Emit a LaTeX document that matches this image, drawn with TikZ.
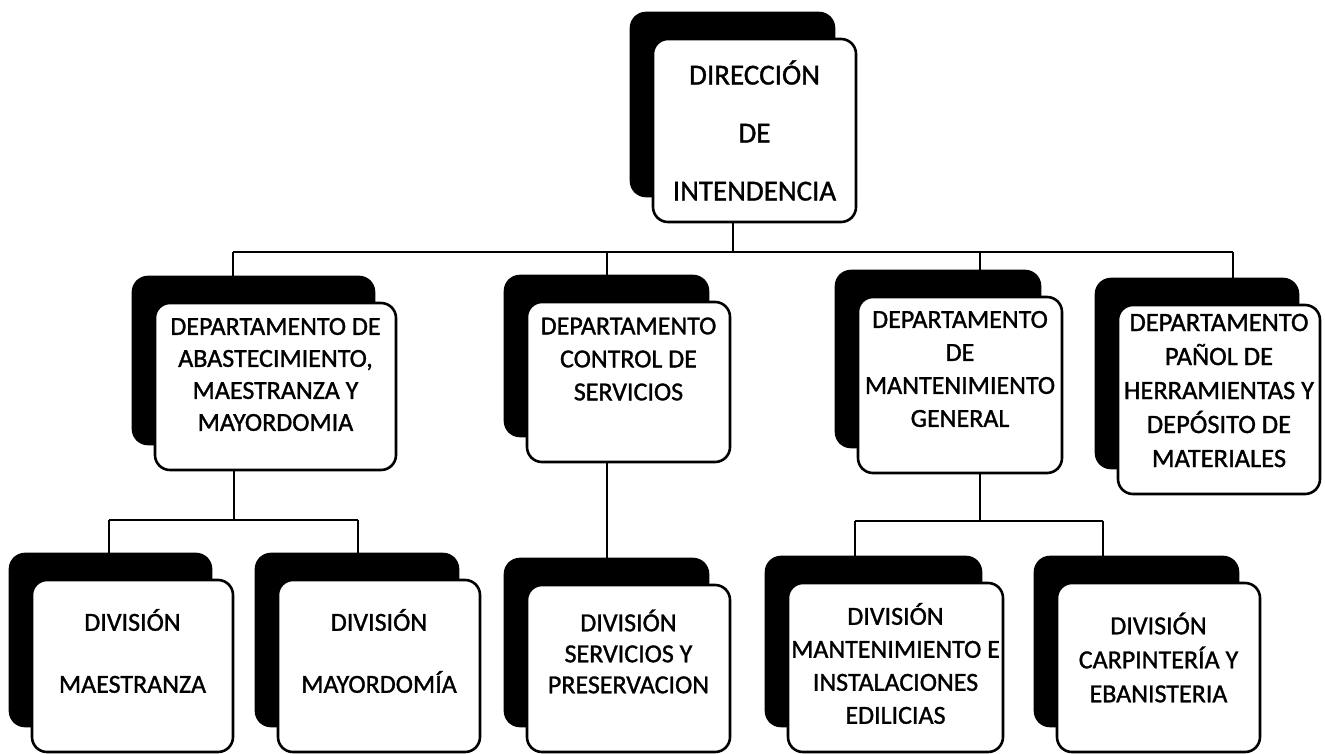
\documentclass[tikz,border=0pt]{standalone}
\usepackage{fontspec}
\setmainfont{Carlito}[BoldFont=Carlito,BoldFeatures={FakeBold=1.2}]
\usetikzlibrary{shadows}
\begin{document}
\begin{tikzpicture}[x=1pt,y=-1pt,
  unit/.style={draw,line width=2.6pt,rounded corners=15pt,fill=white,inner sep=0pt,
    copy shadow={shadow xshift=-22pt,shadow yshift=26pt,fill=black,draw=black}},
  lbl/.style={align=center,inner sep=0pt,font=\fontsize{26}{33}\selectfont\bfseries},
  link/.style={line width=2.2pt}]
\useasboundingbox (0,0) rectangle (1325,754);

%Top box
\node[unit,minimum width=203pt,minimum height=183pt] (dir) at (754.5,130.5) {};
\node[lbl,font=\fontsize{29}{58}\selectfont\bfseries] (dirt) at (dir.center) {DIRECCIÓN\\DE\\INTENDENCIA};

%Departments
\node[unit,minimum width=241pt,minimum height=167pt] (dep1) at (275.5,386.5) {};
\node[lbl,font=\fontsize{26}{32}\selectfont\bfseries] (dep1t) at ([yshift=12pt]dep1.center) {DEPARTAMENTO DE\\ABASTECIMIENTO,\\MAESTRANZA Y\\MAYORDOMIA};
\node[unit,minimum width=203pt,minimum height=160pt] (dep2) at (628.5,382) {};
\node[lbl] (dep2t) at ([yshift=23pt]dep2.center) {DEPARTAMENTO\\CONTROL DE\\SERVICIOS};
\node[unit,minimum width=204pt,minimum height=176pt] (dep3) at (960,385) {};
\node[lbl] (dep3t) at ([yshift=16pt]dep3.center) {DEPARTAMENTO\\DE\\MANTENIMIENTO\\GENERAL};
\node[unit,minimum width=202pt,minimum height=189pt] (dep4) at (1219,399.5) {};
\node[lbl,font=\fontsize{26.5}{34}\selectfont\bfseries] (dep4t) at ([yshift=9pt]dep4.center) {DEPARTAMENTO\\PAÑOL DE\\HERRAMIENTAS Y\\DEPÓSITO DE\\MATERIALES};

%Divisions
\node[unit,minimum width=201pt,minimum height=172pt] (div1) at (132.5,666) {};
\node[lbl,font=\fontsize{26}{62}\selectfont\bfseries] (div1t) at ([yshift=15pt]div1.center) {DIVISIÓN\\MAESTRANZA};
\node[unit,minimum width=202pt,minimum height=172pt] (div2) at (379,666) {};
\node[lbl,font=\fontsize{26}{62}\selectfont\bfseries] (div2t) at ([yshift=15pt]div2.center) {DIVISIÓN\\MAYORDOMÍA};
\node[unit,minimum width=203pt,minimum height=167pt] (div3) at (628.5,668.5) {};
\node[lbl,font=\fontsize{26}{31}\selectfont\bfseries] (div3t) at ([yshift=17pt]div3.center) {DIVISIÓN\\SERVICIOS Y\\PRESERVACION};
\node[unit,minimum width=215pt,minimum height=169pt] (div4) at (895.5,667.5) {};
\node[lbl] (div4t) at ([yshift=4pt]div4.center) {DIVISIÓN\\MANTENIMIENTO E\\INSTALACIONES\\EDILICIAS};
\node[unit,minimum width=203pt,minimum height=169pt] (div5) at (1158.5,667.5) {};
\node[lbl,font=\fontsize{26}{34}\selectfont\bfseries] (div5t) at ([yshift=10pt]div5.center) {DIVISIÓN\\CARPINTERÍA Y\\EBANISTERIA};

%Links from top to departments
\coordinate (j0) at (733,252);
\coordinate (j1) at (233,252);
\coordinate (j2) at (607,252);
\coordinate (j3) at (980,252);
\coordinate (j4) at (1233,252);
\draw[link] (dir.south -| j0) -- (j0);
\draw[link] (j1) -- (j4);
\foreach \n in {1,...,4}
  \draw[link] (j\n) -- (j\n |- dep\n.north);

%Links from departments to divisions
\coordinate (k1) at (234,520);
\coordinate (k11) at (109,520);
\coordinate (k12) at (358,520);
\draw[link] (dep1.south -| k1) -- (k1);
\draw[link] (k11) -- (k12);
\draw[link] (k11) -- (k11 |- div1.north);
\draw[link] (k12) -- (k12 |- div2.north);
\draw[link] (dep2.south -| j2) -- (j2 |- div3.north);
\coordinate (k3) at (980,521);
\coordinate (k31) at (855,521);
\coordinate (k32) at (1103,521);
\draw[link] (dep3.south -| k3) -- (k3);
\draw[link] (k31) -- (k32);
\draw[link] (k31) -- (k31 |- div4.north);
\draw[link] (k32) -- (k32 |- div5.north);
\end{tikzpicture}
\end{document}
